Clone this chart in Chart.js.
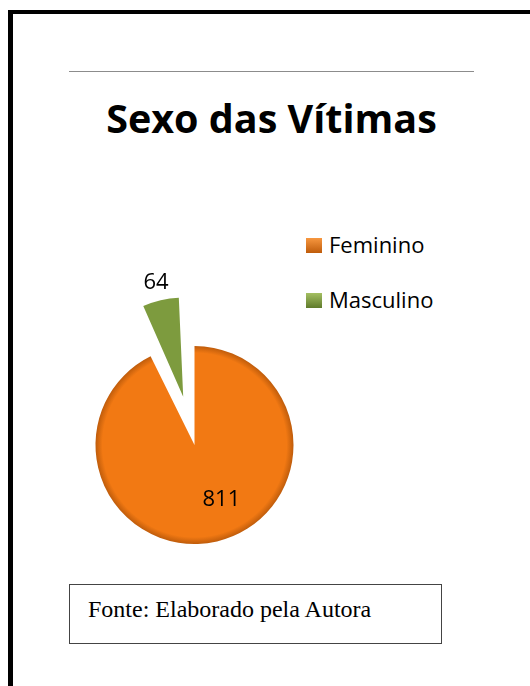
<!DOCTYPE html>
<html>
<head>
<meta charset="utf-8">
<script src="https://cdn.jsdelivr.net/npm/chart.js@4.4.1/dist/chart.umd.min.js"></script>
<style>
  body { margin: 0; background: #fff; }
  #page { position: relative; width: 530px; height: 686px; overflow: hidden; background: #fff; }
  .frame-top { position: absolute; left: 8px; top: 10px; right: 0; height: 4px; background: #000; }
  .frame-left { position: absolute; left: 8px; top: 10px; bottom: 0; width: 5px; background: #000; }
  #rule { position: absolute; left: 69px; top: 71px; width: 405px; height: 1px; background: #8c8c8c; }
  #title {
    position: absolute; left: 69px; top: 99px; width: 405px; text-align: center;
    font: bold 39.5px "Open Sans"; line-height: 39.5px; color: #000; white-space: nowrap;
  }
  #legend { position: absolute; left: 0; top: 0; }
  .item { position: absolute; left: 306px; font: 22px "Open Sans"; line-height: 22px; color: #000; white-space: nowrap; }
  .item .box { position: absolute; left: 0; width: 16px; height: 15px; }
  .item span.txt { position: absolute; left: 23px; top: 0; }
  #source {
    position: absolute; left: 69px; top: 584px; width: 373px; height: 60px; box-sizing: border-box;
    border: 1.5px solid #444;
  }
  #source div {
    position: absolute; left: 18px; top: 12px;
    font: 24px "Liberation Serif"; line-height: 24px; color: #000; white-space: nowrap;
  }
  #chart { position: absolute; left: 0; top: 0; }
</style>
</head>
<body>
<div id="page">
  <div class="frame-top"></div>
  <div class="frame-left"></div>
  <div id="rule"></div>
  <div id="title">Sexo das Vítimas</div>
  <div id="legend"></div>
  <div id="source"><div>Fonte: Elaborado pela Autora</div></div>
  <canvas id="chart" width="530" height="686"></canvas>
</div>
<script>
// data
const categories = ["Feminino", "Masculino"];
const victims = [811, 64];
const sliceColors = ["#F27913", "#7D9B3E"];
const lightColors = ["#F7973F", "#A4BF62"];
const rimColors = ["#BF5C0B", "#5F7B2B"];
const explode = [0, 49.6]; // how far each slice is pulled out, px

const pieRadius = 99;

// legend (html)
const legendDiv = document.querySelector("#legend");
const legendTops = [233, 288];
categories.forEach((name, i) => {
  const item = document.createElement("div");
  item.className = "item";
  item.style.top = legendTops[i] + "px";
  item.innerHTML =
    '<div class="box" style="top:5px;background:linear-gradient(' +
    lightColors[i] + "," + rimColors[i] + ')"></div><span class="txt">' + name + "</span>";
  legendDiv.appendChild(item);
});

function sliceFill(context) {
  const chart = context.chart;
  const area = chart.chartArea;
  const i = context.dataIndex;
  if (!area) return sliceColors[i];
  const cx = (area.left + area.right) / 2;
  const cy = (area.top + area.bottom) / 2;
  const g = chart.ctx.createRadialGradient(cx, cy, 0, cx, cy, pieRadius + explode[i]);
  g.addColorStop(0, sliceColors[i]);
  g.addColorStop(0.93, sliceColors[i]);
  g.addColorStop(1, rimColors[i]);
  return g;
}

// chart.js v4 moves an arc by offset/4 and also grows it, undo the growth
const explodeFix = {
  id: "explodeFix",
  afterDatasetsUpdate(chart) {
    chart.getDatasetMeta(0).data.forEach((arc, i) => {
      if (!explode[i]) return;
      const fix = 1 - Math.sin(Math.min(Math.PI, arc.circumference));
      arc.outerRadius = pieRadius - explode[i] * fix;
    });
  },
};

// value labels on slices
const valueLabels = {
  id: "valueLabels",
  afterDatasetsDraw(chart, args, opts) {
    const ctx = chart.ctx;
    const meta = chart.getDatasetMeta(0);
    ctx.save();
    ctx.font = "22px 'Open Sans'";
    ctx.fillStyle = "#000";
    ctx.textAlign = "center";
    ctx.textBaseline = "alphabetic";
    meta.data.forEach((arc, i) => {
      const p = arc.getProps(["x", "y", "startAngle", "endAngle"], true);
      let mid = (p.startAngle + p.endAngle) / 2;
      let r;
      if (explode[i] > 0) {
        r = pieRadius + explode[i] + opts.outside;
      } else {
        r = pieRadius * opts.insideRatio;
        mid += opts.insideShift;
      }
      const x = p.x + Math.cos(mid) * r;
      const y = p.y + Math.sin(mid) * r;
      ctx.fillText(victims[i], x, y + 8);
    });
    ctx.restore();
  },
};

new Chart(document.querySelector("#chart").getContext("2d"), {
  type: "pie",
  data: {
    labels: categories,
    datasets: [
      {
        data: victims,
        backgroundColor: sliceFill,
        borderWidth: 0,
        offset: explode.map((d) => d * 4),
      },
    ],
  },
  options: {
    responsive: false,
    animation: false,
    radius: pieRadius,
    layout: { padding: { left: 44.5, right: 185.5, top: 295, bottom: 91 } },
    plugins: {
      legend: { display: false },
      tooltip: { enabled: false },
      valueLabels: { outside: 20, insideRatio: 0.6, insideShift: -0.24 },
    },
  },
  plugins: [explodeFix, valueLabels],
});
</script>
</body>
</html>
